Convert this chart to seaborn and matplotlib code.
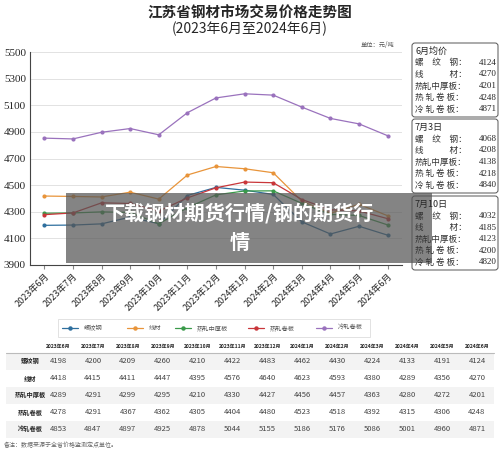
import matplotlib
matplotlib.use("Agg")
import matplotlib.pyplot as plt
import seaborn as sns
import pandas as pd
from matplotlib.patches import FancyBboxPatch, Rectangle

sns.set_style("white")
plt.rcParams['font.family'] = ['Noto Sans CJK SC', 'DejaVu Sans']

months = ["2023年6月","2023年7月","2023年8月","2023年9月","2023年10月","2023年11月","2023年12月",
          "2024年1月","2024年2月","2024年3月","2024年4月","2024年5月","2024年6月"]
series_names = ["螺纹钢","线材","热轧中厚板","热轧卷板","冷轧卷板"]
rebar = [4198,4200,4209,4260,4210,4422,4483,4462,4430,4224,4133,4191,4124]
wire = [4418,4415,4411,4447,4395,4576,4640,4623,4593,4380,4289,4356,4270]
plate = [4289,4291,4299,4295,4210,4330,4427,4456,4457,4363,4280,4272,4201]
hrc = [4278,4291,4367,4362,4305,4404,4480,4523,4518,4392,4315,4306,4248]
crc = [4853,4847,4897,4925,4878,5044,5155,5186,5176,5086,5001,4960,4871]
colors = ["#2e6f9e","#e8943a","#3a9a4a","#c9363a","#9a72bd"]
yticks = [3900,4100,4300,4500,4700,4900,5100,5300,5500]
side_titles = ["6月均价","7月3日","7月10日"]
side_vals = [[4124,4270,4201,4248,4871],[4068,4208,4138,4218,4840],[4032,4185,4123,4200,4820]]
side_labels = ["螺　纹　钢","线　　　材","热轧中厚板","热 轧 卷 板","冷 轧 卷 板"]

data = [rebar, wire, plate, hrc, crc]
df = pd.DataFrame({"month": months * 5,
                   "series": sum([[n]*13 for n in series_names], []),
                   "price": sum(data, [])})

W, H = 500, 457
def fx(px): return px / W
def fy(py): return 1 - py / H

fig = plt.figure(figsize=(5, 4.57), dpi=100)
ax = fig.add_axes([fx(30), fy(265), fx(402-30), fy(52) - fy(265)])
sns.lineplot(data=df, x="month", y="price", hue="series", palette=colors, marker="o",
             markersize=3, markeredgewidth=0, linewidth=0.9, ax=ax, legend=False, sort=False)
ax.set_ylim(3900, 5500)
ax.set_yticks(yticks)
ax.yaxis.grid(True, color="#dddddd", linewidth=0.6)
ax.set_xlabel(""); ax.set_ylabel("")
ax.tick_params(axis='y', labelsize=8, length=0, pad=3)
ax.set_yticklabels([str(t) for t in yticks], family=['Liberation Serif'])
ax.set_xticks(range(13))
ax.set_xticklabels(months, rotation=45, ha="right", fontsize=6.5, rotation_mode="anchor")
ax.tick_params(axis='x', length=3, pad=2, color="#888888", bottom=True)
for s in ["top","right"]:
    ax.spines[s].set_visible(False)
ax.spines["left"].set_color("#444444"); ax.spines["bottom"].set_color("#444444")
ax.set_xlim(-0.5, 12.5)

fig.text(0.5, fy(12), "江苏省钢材市场交易价格走势图", ha="center", va="center", fontsize=10.5, fontweight="bold")
fig.text(0.5, fy(29), "(2023年6月至2024年6月)", ha="center", va="center", fontsize=10)
fig.text(fx(394), fy(45), "单位：元/吨", ha="right", va="center", fontsize=4.5, color="#555555")

# side boxes
tops = [43, 119, 196]
for t, title, vals in zip(tops, side_titles, side_vals):
    fig.patches.append(FancyBboxPatch((fx(412), fy(t+74)), fx(86), fy(t) - fy(t+74),
                                      boxstyle="round,pad=0,rounding_size=0.006",
                                      transform=fig.transFigure, fc="white", ec="#555555", lw=0.7))
    fig.text(fx(415), fy(t+8), title, fontsize=6.5, va="center")
    for i, (lab, v) in enumerate(zip(side_labels, vals)):
        y = fy(t + 20 + i*11.5)
        fig.text(fx(415), y, lab + "：", fontsize=6.2, va="center", color="#333333")
        fig.text(fx(497), y, str(v), fontsize=6.5, va="center", ha="right", family=['Liberation Serif'])

# watermark band
fig.patches.append(Rectangle((fx(66), fy(263)), fx(432-66), fy(193) - fy(263), transform=fig.transFigure,
                             fc="#555555", alpha=0.72, ec="none"))
fig.text(fx(240), fy(213), "下载钢材期货行情/钢的期货行", ha="center", va="center", fontsize=14.5,
         fontweight="bold", color="white")
fig.text(fx(240), fy(242), "情", ha="center", va="center", fontsize=14.5, fontweight="bold", color="white")

# legend
fig.patches.append(Rectangle((fx(58), fy(337)), fx(312), fy(319) - fy(337), transform=fig.transFigure,
                             fc="white", ec="#dddddd", lw=0.6))
lx = [62, 127, 175, 248, 316]
for x, n, c in zip(lx, series_names, colors):
    fig.lines.append(plt.Line2D([fx(x), fx(x+16)], [fy(328)]*2, transform=fig.transFigure, color=c, lw=0.9))
    fig.lines.append(plt.Line2D([fx(x+8)], [fy(328)], transform=fig.transFigure, color=c, marker="o", markersize=2.2))
    fig.text(fx(x+22), fy(328), n, fontsize=4.5, va="center", color="#555555")

# table
label_cx = 30
col0 = 58
col_w = (477 - 58) / 12
fig.lines.append(plt.Line2D([fx(6), fx(494)], [fy(353)]*2, transform=fig.transFigure, color="#bbbbbb", lw=0.8))
for j, m in enumerate(months):
    fig.text(fx(col0 + col_w*j), fy(346), m, fontsize=3.6, ha="center", va="center", fontweight="bold")
for i, (n, row) in enumerate(zip(series_names, data)):
    yp = 361 + i*17
    if i % 2 == 0:
        fig.patches.append(Rectangle((fx(6), fy(yp+8.5)), fx(488), fy(yp-8.5) - fy(yp+8.5),
                                     transform=fig.transFigure, fc="#f3f3f3", ec="none"))
    fig.text(fx(label_cx), fy(yp), n, fontsize=4.5, ha="center", va="center", fontweight="bold")
    for j, v in enumerate(row):
        fig.text(fx(col0 + col_w*j), fy(yp), str(v), fontsize=5.5, ha="center", va="center", color="#444444")
fig.text(fx(4), fy(445), "备注：数据来源于全省价格监测定点单位。", fontsize=4.3, color="#666666", va="center")

fig.savefig("out.png", dpi=100)
